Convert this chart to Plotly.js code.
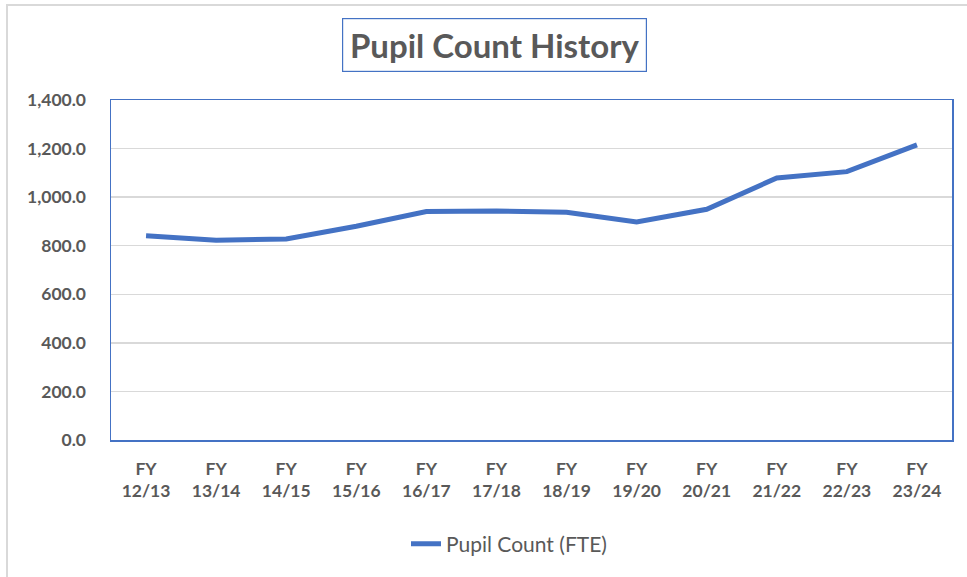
<!DOCTYPE html>
<html>
<head>
<meta charset="utf-8">
<script src="https://cdn.plot.ly/plotly-3.0.1.min.js"></script>
<style>html,body{margin:0;padding:0;background:#fff;}#chart{width:967px;height:577px;}</style>
</head>
<body>
<div id="chart"></div>
<script>
const categories = ["FY<br>12/13","FY<br>13/14","FY<br>14/15","FY<br>15/16","FY<br>16/17","FY<br>17/18","FY<br>18/19","FY<br>19/20","FY<br>20/21","FY<br>21/22","FY<br>22/23","FY<br>23/24"];
const pupilCount = [841, 823, 828, 880, 941, 943, 938, 898, 950, 1079, 1105, 1215];
const yTicks = [0, 200, 400, 600, 800, 1000, 1200, 1400];
const seriesName = "Pupil Count (FTE)";
const chartTitle = "Pupil Count History";

const gray = "#595959";
const blue = "#4472C4";
const W = 967, H = 577, L = 111, R = 15, T = 100, B = 137;
const pw = W - L - R, ph = H - T - B;
const px = v => (v - L) / pw;
const py = v => (H - B - v) / ph;

const trace = {
  x: categories,
  y: pupilCount,
  type: "scatter",
  mode: "lines",
  name: seriesName,
  line: {color: blue, width: 5}
};

const layout = {
  width: W, height: H,
  margin: {l: L, r: R, t: T, b: B, pad: 0},
  paper_bgcolor: "#fff",
  plot_bgcolor: "#fff",
  font: {family: "Lato, 'Open Sans', sans-serif", color: gray},
  showlegend: true,
  legend: {
    orientation: "h", x: px(406), xanchor: "left", y: py(544), yanchor: "middle",
    font: {size: 21, color: gray, family: "Lato, sans-serif"}
  },
  xaxis: {
    type: "category",
    range: [-0.5, categories.length - 0.5],
    showgrid: false, zeroline: false,
    showline: true, mirror: true, linecolor: blue, linewidth: 1.5,
    ticks: "", ticklabelstandoff: 12,
    tickfont: {size: 17.5, color: gray, family: "Lato, sans-serif", weight: "bold"},
    fixedrange: true
  },
  yaxis: {
    range: [0, 1400],
    tickvals: yTicks,
    tickformat: ",.1f",
    showgrid: true, gridcolor: "#D9D9D9", gridwidth: 1.5,
    zeroline: false,
    showline: true, mirror: true, linecolor: blue, linewidth: 1.5,
    ticks: "", ticklabelstandoff: 20,
    tickfont: {size: 17.5, color: gray, family: "Lato, sans-serif", weight: "bold"},
    fixedrange: true
  },
  annotations: [{
    text: chartTitle,
    xref: "paper", yref: "paper",
    x: px(494), y: py(45.5), xanchor: "center", yanchor: "middle",
    showarrow: false,
    width: 303, height: 52,
    bordercolor: blue, borderwidth: 1.2, borderpad: 0,
    font: {size: 33, color: gray, family: "Lato, sans-serif", weight: "bold"}
  }],
  shapes: [{
    type: "rect", xref: "paper", yref: "paper",
    x0: px(7), x1: px(1000), y0: py(600), y1: py(5),
    line: {color: "#D9D9D9", width: 2}, fillcolor: "rgba(0,0,0,0)", layer: "below"
  }]
};

Plotly.newPlot("chart", [trace], layout, {displayModeBar: false, staticPlot: true});
</script>
</body>
</html>
